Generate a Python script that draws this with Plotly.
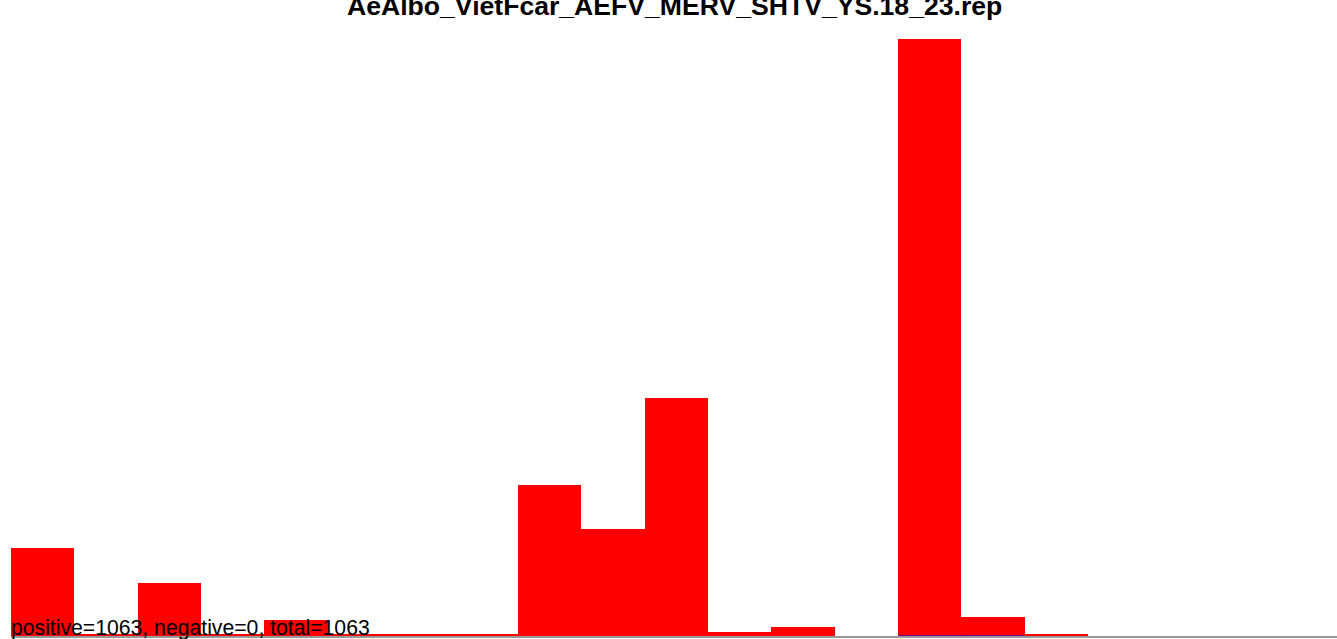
import plotly.graph_objects as go

# Read-count histogram for one repeat file
title_text = "AeAlbo_VietFcar_AEFV_MERV_SHTV_YS.18_23.rep"
bins = list(range(21))
positive = [72, 1, 44, 1, 13, 2, 1, 2, 124, 88, 196, 3, 7, 0, 491, 16, 2, 0, 0, 0, 0]
negative_bins = [14, 15]
negative = [0, 0]

n_pos = sum(positive)
n_neg = sum(negative)
summary = f"positive={n_pos}, negative={n_neg}, total={n_pos + n_neg}"

fig = go.Figure()
fig.add_trace(go.Bar(
    x=bins, y=positive, width=1.0,
    marker=dict(color="#ff0000", line=dict(width=0)),
    showlegend=False, hoverinfo="skip",
))

# negative counts drawn as blue segments along the baseline
neg_x, neg_y = [], []
for b, v in zip(negative_bins, negative):
    neg_x += [b - 0.5, b + 0.5, None]
    neg_y += [-v, -v, None]
fig.add_trace(go.Scatter(
    x=neg_x, y=neg_y, mode="lines",
    line=dict(color="#0000ff", width=1),
    cliponaxis=False, showlegend=False, hoverinfo="skip",
))

fig.update_layout(
    width=1337, height=639,
    margin=dict(l=11, r=0, t=39, b=3, pad=0),
    paper_bgcolor="white", plot_bgcolor="white",
    bargap=0, barmode="overlay",
    font=dict(family="Liberation Sans, Arial, sans-serif", color="black"),
    xaxis=dict(range=[-0.5, 20.43], showgrid=False, zeroline=False,
               showticklabels=False, ticks="", showline=True,
               linecolor="#999999", linewidth=2),
    yaxis=dict(range=[0, max(positive)], showgrid=False, zeroline=False,
               showticklabels=False, ticks="", showline=False),
    annotations=[
        dict(text=f"<b>{title_text}</b>", x=0.5, xref="paper", xanchor="center",
             y=1.0561, yref="paper", yanchor="middle", showarrow=False,
             font=dict(size=26.6, color="black")),
        dict(text=summary, x=-0.0015, xref="paper", xanchor="left",
             y=0.0135, yref="paper", yanchor="middle", showarrow=False,
             font=dict(size=21.2, color="black")),
    ],
)

fig.write_html("out.html")
